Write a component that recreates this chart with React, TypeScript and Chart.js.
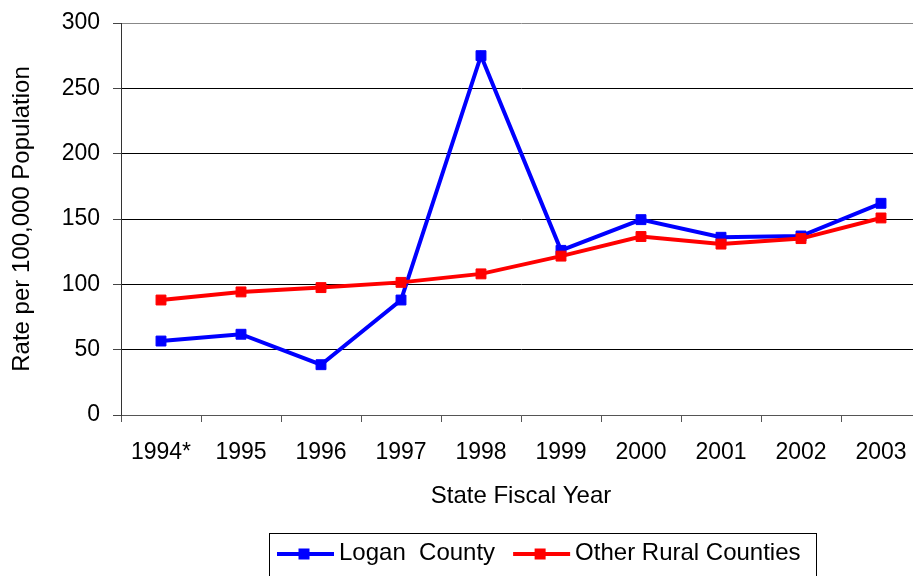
import React, { useEffect, useRef } from "react";
import { Chart, registerables } from "chart.js";

Chart.register(...registerables);

const years = ["1994*", "1995", "1996", "1997", "1998", "1999", "2000", "2001", "2002", "2003"];
const loganCounty = [56.6, 61.8, 38.5, 88, 275, 126, 149.5, 136, 137, 162];
const otherRural = [88, 94.2, 97.5, 101.5, 108, 121.6, 136.6, 130.8, 135, 150.8];
const yTickValues = [0, 50, 100, 150, 200, 250, 300];

const seriesNames = ["Logan  County", "Other Rural Counties"];
const seriesColors = ["#0000FF", "#FF0000"];

const FONT = "'Liberation Sans', Arial, Helvetica, sans-serif";

const boxedLegend = {
  id: "boxedLegend",
  afterDraw(chart: any) {
    const ctx = chart.ctx as CanvasRenderingContext2D;
    ctx.save();
    ctx.strokeStyle = "#000";
    ctx.lineWidth = 1;
    ctx.strokeRect(269.5, 533.5, 547, 60);
    ctx.font = `24px ${FONT}`;
    ctx.textBaseline = "middle";
    ctx.textAlign = "left";
    const y = 554;
    let x = 277;
    chart.data.datasets.forEach((ds: any) => {
      ctx.strokeStyle = ds.borderColor;
      ctx.lineWidth = 4;
      ctx.beginPath();
      ctx.moveTo(x, y);
      ctx.lineTo(x + 57, y);
      ctx.stroke();
      ctx.fillStyle = ds.borderColor;
      ctx.fillRect(x + 27 - 5.5, y - 5.5, 11, 11);
      ctx.fillStyle = "#000";
      ctx.fillText(ds.label, x + 62, y - 1);
      const w = ctx.measureText(ds.label).width;
      x = x + 62 + w + 18;
    });
    ctx.restore();
  },
};

export default function App() {
  const ref = useRef<HTMLCanvasElement | null>(null);
  useEffect(() => {
    if (!ref.current) return;
    const chart = new Chart(ref.current, {
      type: "line",
      data: {
        labels: years,
        datasets: [
          {
            label: seriesNames[0],
            data: loganCounty,
            borderColor: seriesColors[0],
            backgroundColor: seriesColors[0],
            borderWidth: 4,
            pointStyle: "rect",
            pointRadius: 7,
            pointBorderWidth: 1,
            pointBackgroundColor: seriesColors[0],
            pointBorderColor: seriesColors[0],
            tension: 0,
            order: 1,
          },
          {
            label: seriesNames[1],
            data: otherRural,
            borderColor: seriesColors[1],
            backgroundColor: seriesColors[1],
            borderWidth: 4,
            pointStyle: "rect",
            pointRadius: 7,
            pointBorderWidth: 1,
            pointBackgroundColor: seriesColors[1],
            pointBorderColor: seriesColors[1],
            tension: 0,
            order: 0,
          },
        ],
      },
      options: {
        responsive: false,
        animation: false,
        devicePixelRatio: 1,
        layout: { padding: { left: 8, top: 23, right: 9, bottom: 65 } },
        plugins: {
          legend: { display: false },
          tooltip: { enabled: false },
        },
        scales: {
          x: {
            type: "category",
            offset: true,
            grid: {
              offset: true,
              drawOnChartArea: false,
              drawTicks: true,
              tickLength: 7,
              color: "#555",
            },
            border: { display: true, color: "#555", width: 1 },
            ticks: {
              color: "#000",
              font: { family: FONT, size: 23 },
              padding: 17,
              maxRotation: 0,
              autoSkip: false,
            },
            title: {
              display: true,
              text: "State Fiscal Year",
              color: "#000",
              font: { family: FONT, size: 24 },
              padding: { top: 0, bottom: 0 },
            },
            afterFit(scale: any) {
              scale.height = 96;
              scale.paddingLeft = 0;
              scale.paddingRight = 0;
            },
          },
          y: {
            min: 0,
            max: 300,
            afterBuildTicks(scale: any) {
              scale.ticks = yTickValues.map((v) => ({ value: v }));
            },
            grid: {
              color: (c: any) =>
                c.tick && (c.tick.value === 300 || c.tick.value === 0) ? "#888" : "#000",
              tickColor: "#444",
              tickLength: 8,
              lineWidth: 1,
            },
            border: { display: true, color: "#333", width: 1 },
            ticks: {
              color: "#000",
              font: { family: FONT, size: 23 },
              padding: 13,
            },
            title: {
              display: true,
              text: "Rate per 100,000 Population",
              color: "#000",
              font: { family: FONT, size: 24 },
              padding: { top: 0, bottom: 0 },
            },
            afterFit(scale: any) {
              scale.width = 113;
              scale.paddingTop = 0;
              scale.paddingBottom = 0;
            },
          },
        },
      },
      plugins: [boxedLegend],
    } as any);
    return () => chart.destroy();
  }, []);
  return (
    <div style={{ position: "fixed", left: 0, top: 0, width: 930, height: 576, background: "#fff" }}>
      <canvas ref={ref} width={930} height={576} style={{ display: "block", width: 930, height: 576 }} />
    </div>
  );
}
